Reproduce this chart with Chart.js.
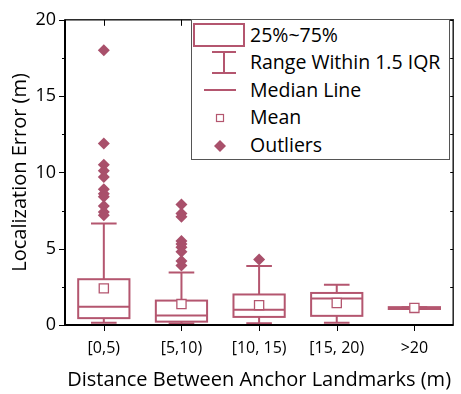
<!DOCTYPE html>
<html>
<head>
<meta charset="utf-8">
<script src="https://cdn.jsdelivr.net/npm/chart.js@4"></script>
<style>
  body { margin: 0; background: #fff; }
  #wrap { position: relative; width: 461px; height: 394px; }
  #legend {
    position: absolute; left: 191px; top: 19px; width: 257px; height: 139px;
    border: 1px solid #555; background: #fff;
    font-family: 'Open Sans', sans-serif; font-size: 19.5px; color: #000;
  }
  #legend svg { position: absolute; left: 0; top: 0; }
  .item { position: absolute; left: 58px; height: 28px; line-height: 28px; white-space: nowrap; }
</style>
</head>
<body>
<div id="wrap">
  <canvas id="boxChart" width="461" height="394"></canvas>
  <div id="legend">
    <svg width="60" height="139">
      <rect x="2" y="4" width="50" height="22" fill="#fff" stroke="#b4566f" stroke-width="2"/>
      <path d="M20 32 H44 M32 32 V53 M20 53 H44" stroke="#b4566f" stroke-width="2" fill="none"/>
      <path d="M12 70 H44" stroke="#b4566f" stroke-width="2"/>
      <rect x="24.5" y="94.5" width="7" height="7" fill="#fff" stroke="#b4566f" stroke-width="1.2"/>
      <path d="M28 120 L34 126 L28 132 L22 126 Z" fill="#a9506b"/>
    </svg>
    <div class="item" style="top:1px">25%~75%</div>
    <div class="item" style="top:28px">Range Within 1.5 IQR</div>
    <div class="item" style="top:56px">Median Line</div>
    <div class="item" style="top:83px">Mean</div>
    <div class="item" style="top:111px">Outliers</div>
  </div>
</div>
<script>
const categories = ['[0,5)', '[5,10)', '[10, 15)', '[15, 20)', '>20'];
const q1 = [0.45, 0.22, 0.53, 0.6, 1.05];
const q3 = [3.0, 1.6, 2.0, 2.1, 1.17];
const medians = [1.2, 0.63, 1.0, 1.73, 1.12];
const means = [2.4, 1.37, 1.3, 1.44, 1.12];
const whiskerLow = [0.15, 0.1, 0.12, 0.15, 1.05];
const whiskerHigh = [6.65, 3.44, 3.86, 2.64, 1.17];
const outliers05 = [18.0, 11.9, 10.5, 10.1, 9.7, 8.9, 8.6, 8.4, 7.8, 7.4, 7.2];
const outliers510 = [7.9, 7.3, 7.1, 5.5, 5.3, 5.1, 4.8, 4.2, 3.9];
const outliers1015 = [4.3];
const yTicks = [0, 5, 10, 15, 20];

const lineColor = '#b4566f';
const dotColor = '#a9506b';

Chart.defaults.font.family = "'Open Sans', sans-serif";
Chart.defaults.color = '#000';

const outlierPoints = []
outliers05.forEach(v => outlierPoints.push({ x: categories[0], y: v }))
outliers510.forEach(v => outlierPoints.push({ x: categories[1], y: v }))
outliers1015.forEach(v => outlierPoints.push({ x: categories[2], y: v }))

// whiskers, caps, median and box outline, drawn right after the boxes
const boxParts = {
  id: 'boxParts',
  afterDatasetDraw(chart, args) {
    if (args.index !== 0) return;
    const ctx = chart.ctx;
    const y = chart.scales.y;
    ctx.save();
    ctx.strokeStyle = lineColor;
    ctx.lineWidth = 2;
    args.meta.data.forEach((bar, i) => {
      const half = bar.width / 2;
      const top = Math.min(bar.y, bar.base);
      const bot = Math.max(bar.y, bar.base);
      const hi = y.getPixelForValue(whiskerHigh[i]);
      const lo = y.getPixelForValue(whiskerLow[i]);
      const med = y.getPixelForValue(medians[i]);
      ctx.beginPath();
      ctx.moveTo(bar.x, top); ctx.lineTo(bar.x, hi);
      ctx.moveTo(bar.x - half / 2, hi); ctx.lineTo(bar.x + half / 2, hi);
      ctx.moveTo(bar.x, bot); ctx.lineTo(bar.x, lo);
      ctx.moveTo(bar.x - half / 2, lo); ctx.lineTo(bar.x + half / 2, lo);
      ctx.moveTo(bar.x - half, med); ctx.lineTo(bar.x + half, med);
      ctx.stroke();
      ctx.strokeRect(bar.x - half, top, bar.width, bot - top);
    });
    ctx.restore();
  }
};

// frame with the tick marks
const frame = {
  id: 'frame',
  afterDraw(chart) {
    const { ctx, chartArea: a, scales } = chart;
    ctx.save();
    ctx.strokeStyle = '#222';
    ctx.lineWidth = 1.5;
    ctx.strokeRect(a.left, a.top, a.right - a.left, a.bottom - a.top);
    ctx.strokeStyle = '#000';
    ctx.lineWidth = 2;
    ctx.beginPath();
    ctx.moveTo(a.left, a.top); ctx.lineTo(a.left, a.bottom);
    ctx.lineTo(a.right, a.bottom);
    ctx.stroke();
    ctx.lineWidth = 1;
    ctx.beginPath();
    for (let v = 0; v <= 20; v += 2.5) {
      const py = Math.round(scales.y.getPixelForValue(v)) + 0.5;
      const major = v % 5 === 0;
      ctx.moveTo(a.left, py); ctx.lineTo(a.left - (major ? 6 : 3), py);
      ctx.moveTo(a.right, py); ctx.lineTo(a.right - 3, py);
    }
    categories.forEach((c, i) => {
      const px = Math.round(scales.x.getPixelForValue(i)) + 0.5;
      ctx.moveTo(px, a.bottom); ctx.lineTo(px, a.bottom + 6);
      ctx.moveTo(px, a.top); ctx.lineTo(px, a.top + 6);
    });
    ctx.stroke();
    ctx.restore();
  }
};

new Chart(document.getElementById('boxChart'), {
  type: 'bar',
  data: {
    labels: categories,
    datasets: [
      {
        label: '25%~75%',
        data: categories.map((c, i) => [q1[i], q3[i]]),
        backgroundColor: '#fff',
        borderWidth: 0,
        barPercentage: 0.66,
        categoryPercentage: 1,
        order: 3
      },
      {
        type: 'line',
        label: 'Outliers',
        data: outlierPoints,
        showLine: false,
        pointStyle: 'rectRot',
        pointRadius: 6,
        pointBackgroundColor: dotColor,
        pointBorderWidth: 0,
        order: 2
      },
      {
        type: 'line',
        label: 'Mean',
        data: means,
        showLine: false,
        pointStyle: 'rect',
        pointRadius: 6.5,
        pointBackgroundColor: '#fff',
        pointBorderColor: lineColor,
        pointBorderWidth: 1.3,
        order: 1
      }
    ]
  },
  options: {
    responsive: false,
    animation: false,
    layout: { padding: { top: 9, right: 4, left: 0, bottom: 0 } },
    plugins: { legend: { display: false }, tooltip: { enabled: false } },
    scales: {
      x: {
        grid: { display: false, drawTicks: false },
        border: { display: false },
        ticks: { font: { size: 16 }, padding: 14, maxRotation: 0 },
        title: { display: true, text: 'Distance Between Anchor Landmarks (m)', font: { size: 20 }, padding: { top: 2, bottom: 2 } },
        afterFit: s => { s.height = 69; }
      },
      y: {
        min: 0,
        max: 20,
        grid: { display: false, drawTicks: false },
        border: { display: false },
        afterBuildTicks: s => { s.ticks = yTicks.map(v => ({ value: v })); },
        ticks: { font: { size: 18 }, padding: 9 },
        title: { display: true, text: 'Localization Error (m)', font: { size: 20 }, padding: { top: 8, bottom: 0 } },
        afterFit: s => { s.width = 65; }
      }
    }
  },
  plugins: [boxParts, frame]
});
</script>
</body>
</html>
